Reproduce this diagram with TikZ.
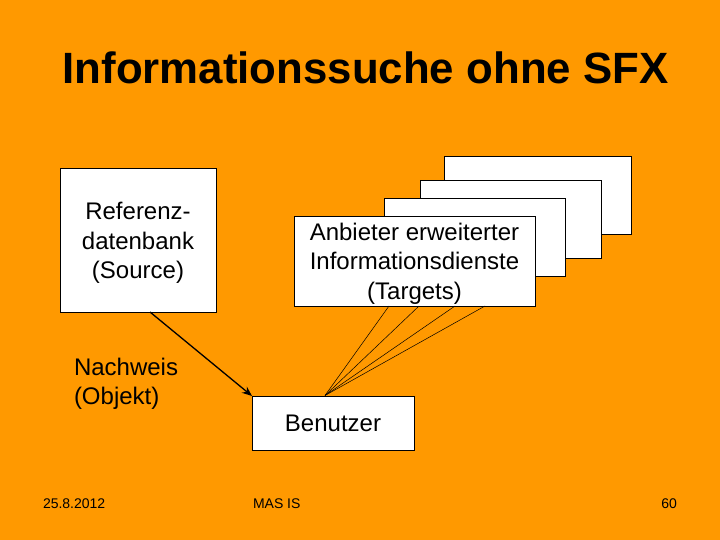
\documentclass[tikz,border=0pt]{standalone}
\usepackage{fontspec}
\setmainfont{Liberation Sans}
\usetikzlibrary{arrows.meta}
\definecolor{bgorange}{HTML}{FF9900}
\tikzset{
  box/.style={draw=black,fill=white,line width=0.9pt,minimum width=#1,inner sep=0pt,outer sep=0pt},
  backbox/.style={draw=black,fill=white,line width=0.9pt,inner sep=0pt,outer sep=0pt},
  boxtext/.style={inner sep=0pt,outer sep=0pt,align=center,font=\fontsize{24}{29.3}\selectfont},
  thin link/.style={draw=black,line width=0.5pt},
  strong link/.style={draw=black,line width=1.3pt,-{Stealth[length=10pt,width=8pt]}},
  label/.style={inner sep=0pt,outer sep=0pt,font=\fontsize{24}{29}\selectfont,align=left},
  foot/.style={inner sep=0pt,outer sep=0pt,font=\fontsize{14}{16}\selectfont}
}
\begin{document}
\begin{tikzpicture}[x=1pt,y=-1pt]
\useasboundingbox (0,0) rectangle (720,540);
\fill[bgorange] (0,0) rectangle (720,540);
\node[inner sep=0pt,anchor=base,font=\bfseries\fontsize{43.8}{50}\selectfont] (title) at (365.5,84) {Informationssuche ohne SFX};
\node[backbox,minimum width=187pt,minimum height=78pt] (b1) at (537.5,195) {};
\node[backbox,minimum width=181pt,minimum height=78pt] (b2) at (510.5,219) {};
\node[backbox,minimum width=181pt,minimum height=78pt] (b3) at (474.5,237) {};
\node[box=241pt,minimum height=90pt] (tgt) at (414.5,261) {};
\node[boxtext] (tgttext) at (414.5,263.5) {Anbieter erweiterter\\Informationsdienste\\(Targets)};
\node[box=156pt,minimum height=144pt] (src) at (138,240) {};
\node[boxtext] (srctext) at (138,243) {Referenz-\\datenbank\\(Source)};
\node[box=162pt,minimum height=54pt] (usr) at (333,423) {};
\node[boxtext] (usrtext) at (333,423.5) {Benutzer};
\node[label,anchor=north west] (nachweis) at (74,358) {Nachweis\\(Objekt)};
\coordinate (u) at (325,395.5);
\coordinate (t1) at (389,306);
\coordinate (t2) at (419,306);
\coordinate (t3) at (455,306);
\coordinate (t4) at (485,306);
\coordinate (s) at (150,312);
\coordinate (ua) at (252,396);
\draw[thin link] (t1) -- (u);
\draw[thin link] (t2) -- (u);
\draw[thin link] (t3) -- (u);
\draw[thin link] (t4) -- (u);
\draw[strong link] (s) -- (ua);
\node[foot,anchor=west] (date) at (43,504) {25.8.2012};
\node[foot,anchor=west] (mas) at (253,504) {MAS IS};
\node[foot,anchor=east] (page) at (677,504) {60};
\end{tikzpicture}
\end{document}
